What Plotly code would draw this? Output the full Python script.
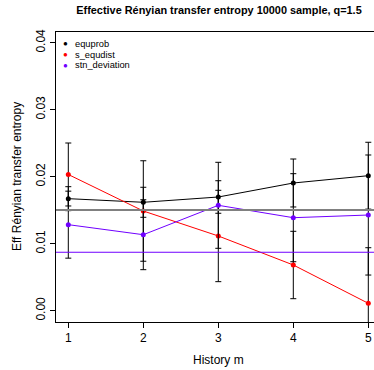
import plotly.graph_objects as go

history_m = [1, 2, 3, 4, 5]

equprob = [0.01672, 0.01618, 0.01697, 0.01906, 0.02015]
equprob_err = [0.00179, 0.00224, 0.00243, 0.00358, 0.00499]

s_equdist = [0.02033, 0.01488, 0.01115, 0.00682, 0.00110]
s_equdist_err = [0.00470, 0.00750, 0.00682, 0.00503, 0.00830]

stn_deviation = [0.01284, 0.01134, 0.01573, 0.01388, 0.01428]
stn_deviation_err = [0.00500, 0.00522, 0.00642, 0.00657, 0.00896]

ref_gray = 0.01503
ref_blue = 0.00872

series_names = ["equprob", "s_equdist", "stn_deviation"]
series_colors = ["#000000", "#FF0000", "#7000FF"]
y_ticks = [0.00, 0.01, 0.02, 0.03, 0.04]

FONT = "Liberation Sans, Arial, Helvetica, sans-serif"

fig = go.Figure()

for name, vals, errs, col in zip(series_names,
                                 [equprob, s_equdist, stn_deviation],
                                 [equprob_err, s_equdist_err, stn_deviation_err],
                                 series_colors):
    fig.add_trace(go.Scatter(
        x=history_m, y=vals, name=name, mode="lines+markers",
        line=dict(color=col, width=1),
        marker=dict(color=col, size=5),
        error_y=dict(type="data", array=errs, visible=True,
                     color="#000000", thickness=1, width=3),
        showlegend=False,
    ))

fig.add_hline(y=ref_gray, line=dict(color="#808080", width=2))
fig.add_hline(y=ref_blue, line=dict(color="#7000FF", width=1))

fig.update_layout(
    width=374, height=370,
    margin=dict(l=56, r=0, t=32, b=48),
    paper_bgcolor="white", plot_bgcolor="white",
    font=dict(family=FONT, size=12, color="#000000"),
    title=dict(text="<b>Effective Rényian transfer entropy 10000 sample, q=1.5</b>",
               font=dict(family=FONT, size=10.9, color="#000000"),
               xref="container", yref="container",
               x=219/374, xanchor="center", y=1-10/370, yanchor="middle"),
)

fig.update_xaxes(range=[0.836, 5.076], tickvals=history_m,
                 ticktext=[str(v) for v in history_m],
                 showgrid=False, zeroline=False,
                 showline=True, mirror=True, linecolor="#000000", linewidth=1,
                 ticks="outside", ticklen=5, tickcolor="#000000",
                 tickfont=dict(family=FONT, size=12))
fig.update_yaxes(range=[-0.00169, 0.0416], tickvals=y_ticks,
                 ticktext=[f"{v:.2f}" for v in y_ticks],
                 tickangle=-90,
                 showgrid=False, zeroline=False,
                 showline=True, mirror=False, linecolor="#000000", linewidth=1,
                 ticks="outside", ticklen=5, tickcolor="#000000",
                 tickfont=dict(family=FONT, size=12))

# axis titles
fig.add_annotation(text="History m", xref="paper", yref="paper",
                   x=(218.3-56)/318, y=(322-360)/290,
                   xanchor="center", yanchor="middle", showarrow=False,
                   font=dict(family=FONT, size=12))
fig.add_annotation(text="Eff Rényian transfer entropy", xref="paper", yref="paper",
                   x=(17-56)/318, y=0.5, textangle=-90,
                   xanchor="center", yanchor="middle", showarrow=False,
                   font=dict(family=FONT, size=12))

# legend (top-left inside plot)
for i, (name, col) in enumerate(zip(series_names, series_colors)):
    ypix = 43.5 + 11*i
    yp = (322-ypix)/290
    fig.add_annotation(text="●", xref="paper", yref="paper",
                       x=(65.7-56)/318, y=yp, xanchor="center", yanchor="middle",
                       showarrow=False, font=dict(family=FONT, size=8, color=col))
    fig.add_annotation(text=name, xref="paper", yref="paper",
                       x=(73-56)/318, y=yp, xanchor="left", yanchor="middle",
                       showarrow=False, font=dict(family=FONT, size=9.3, color="#000000"))

fig.write_html("out.html",
               config={"displayModeBar": False},
               post_script="document.body.style.margin='0';document.body.style.overflow='hidden';")
